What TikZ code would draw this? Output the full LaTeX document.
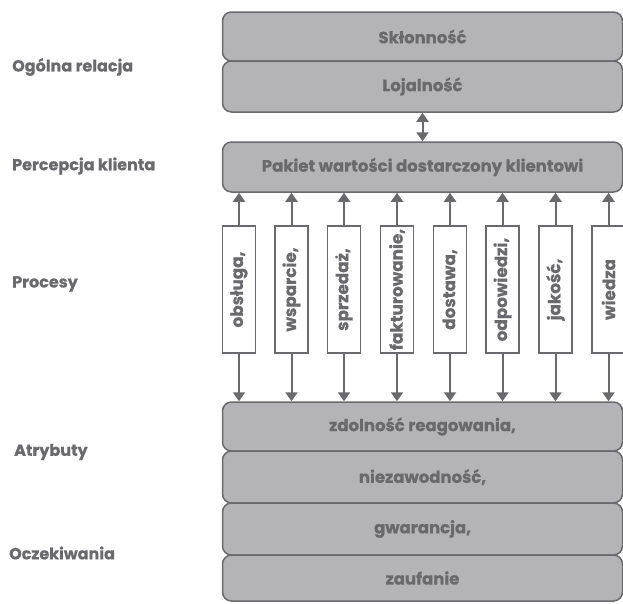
\documentclass[tikz,border=0pt]{standalone}
\usepackage{fontspec}
\setmainfont{Poppins}[BoldFeatures={FakeBold=0.6}]
\usetikzlibrary{arrows.meta}
\definecolor{bandfill}{HTML}{B4B4B8}
\definecolor{txtgray}{HTML}{69696E}
\definecolor{linegray}{HTML}{6A6A6E}
\tikzset{
  band/.style={draw=linegray, line width=1.5pt, fill=bandfill, rounded corners=9pt,
    minimum width=400pt, inner sep=0pt, text=txtgray,
    font=\fontsize{16.5}{18}\selectfont\bfseries},
  procbox/.style={draw=linegray, line width=1.4pt, fill=white, minimum width=33pt,
    minimum height=127pt, inner sep=0pt, text=txtgray,
    font=\fontsize{16.8}{19}\selectfont\bfseries},
  sidelabel/.style={anchor=west, inner sep=0pt, text=txtgray,
    font=\fontsize{16}{18}\selectfont\bfseries},
  conn/.style={draw=linegray, line width=2pt, -{Triangle[width=12pt,length=9pt]}},
  dconn/.style={draw=linegray, line width=2pt, {Triangle[width=12pt,length=9pt]}-{Triangle[width=12pt,length=9pt]}}
}
\begin{document}
\begin{tikzpicture}[x=1pt,y=-1pt]
\useasboundingbox (0,0) rectangle (623,603);
\clip (0,0) rectangle (623,603);
% top bands
\node[band, minimum height=49pt] (sk) at (422.5,36.5) {Skłonność};
\node[band, minimum height=51pt] (lo) at (422.5,86.5) {Lojalność};
\node[band, minimum height=50pt] (pk) at (422.5,167) {Pakiet wartości dostarczony klientowi};
% bottom bands
\node[band, minimum height=49pt] (b1) at (422.5,426.5) {zdolność reagowania,};
\node[band, minimum height=52pt] (b2) at (422.5,477) {niezawodność,};
\node[band, minimum height=52pt] (b3) at (422.5,529) {gwarancja,};
\node[band, minimum height=46pt] (b4) at (422.5,578) {zaufanie};
% double arrow
\draw[dconn] (lo.south) -- (pk.north);
% process boxes
\foreach \i/\x/\t in {1/239/{obsługa,},2/291.5/{wsparcie,},3/344/{sprzedaż,},4/397/{fakturowanie,},5/450/{dostawa,},6/502.5/{odpowiedzi,},7/555.5/{jakość,},8/608.5/{wiedza}}{
  \node[procbox] (p\i) at (\x,289.5) {\rotatebox{90}{\t}};
  \draw[conn] (p\i.north) -- (p\i.north |- pk.south);
  \draw[conn] (p\i.south) -- (p\i.south |- b1.north);
}
% side labels
\node[sidelabel] (l1) at (12,67) {Ogólna relacja};
\node[sidelabel] (l2) at (12,166) {Percepcja klienta};
\node[sidelabel] (l3) at (12,284) {Procesy};
\node[sidelabel] (l4) at (14,452) {Atrybuty};
\node[sidelabel] (l5) at (9,553) {Oczekiwania};
\end{tikzpicture}
\end{document}
